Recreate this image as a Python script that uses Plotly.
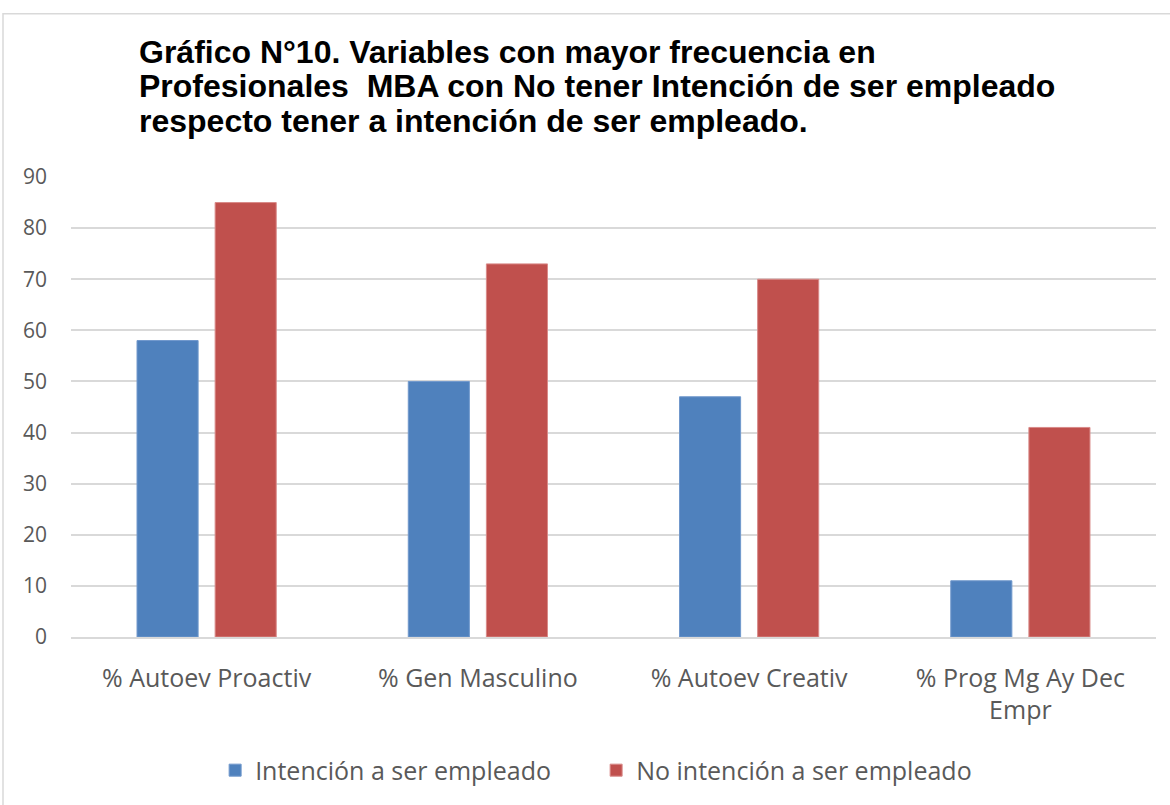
import plotly.graph_objects as go

categories = ["% Autoev Proactiv", "% Gen Masculino", "% Autoev Creativ", "% Prog Mg Ay Dec<br>Empr"]
intencion = [58, 50, 47, 11]
no_intencion = [85, 73, 70, 41]
series_names = ["Intención a ser empleado", "No intención a ser empleado"]
title_lines = ["Gráfico N°10. Variables con mayor frecuencia en",
               "Profesionales  MBA con No tener Intención de ser empleado",
               "respecto tener a intención de ser empleado."]

W, H = 1170, 805
L, R, T, B = 71, 14, 177, 166
pw, ph = W - L - R, H - T - B

fig = go.Figure()
fig.add_trace(go.Bar(x=categories, y=intencion, name=series_names[0],
                     marker=dict(color="#4F81BD", line=dict(color="#7098cc", width=1))))
fig.add_trace(go.Bar(x=categories, y=no_intencion, name=series_names[1],
                     marker=dict(color="#C0504D", line=dict(color="#d98a88", width=1))))

annotations = []
tops = [31, 66, 101]
for line, top in zip(title_lines, tops):
    annotations.append(dict(text="<b>" + line + "</b>", xref="paper", yref="paper",
                            x=(137 - L) / pw, xanchor="left",
                            y=(H - B - top) / ph, yanchor="top", showarrow=False,
                            font=dict(family="Liberation Sans, Arial", size=32, color="black")))

fig.update_layout(
    width=W, height=H,
    margin=dict(l=L, r=R, t=T, b=B),
    paper_bgcolor="white", plot_bgcolor="white",
    barmode="group", bargap=0.424, bargroupgap=0.218,
    font=dict(family="Open Sans, Noto Sans", size=21, color="#595959"),
    legend=dict(orientation="h", x=0.484, xanchor="center", y=-0.29, yanchor="middle",
                font=dict(size=25, color="#595959"), entrywidth=336, entrywidthmode="pixels"),
    yaxis=dict(range=[0, 90], dtick=10, showgrid=True, gridcolor="#d9d9d9", gridwidth=1.5,
               zeroline=False, showline=False, ticks="", ticklabelstandoff=23,
               tickfont=dict(size=21, color="#595959")),
    xaxis=dict(showgrid=False, showline=True, linecolor="#d9d9d9", linewidth=1.5, ticks="",
               ticklabelstandoff=18, tickfont=dict(size=25, color="#595959")),
    annotations=annotations,
    shapes=[dict(type="rect", xref="paper", yref="paper",
                 x0=(3 - L) / pw, x1=(1180 - L) / pw, y0=(H - B - 812) / ph, y1=(H - B - 13) / ph,
                 line=dict(color="#d9d9d9", width=1.5), fillcolor="rgba(0,0,0,0)", layer="below")],
)

fig.write_html("out.html")
